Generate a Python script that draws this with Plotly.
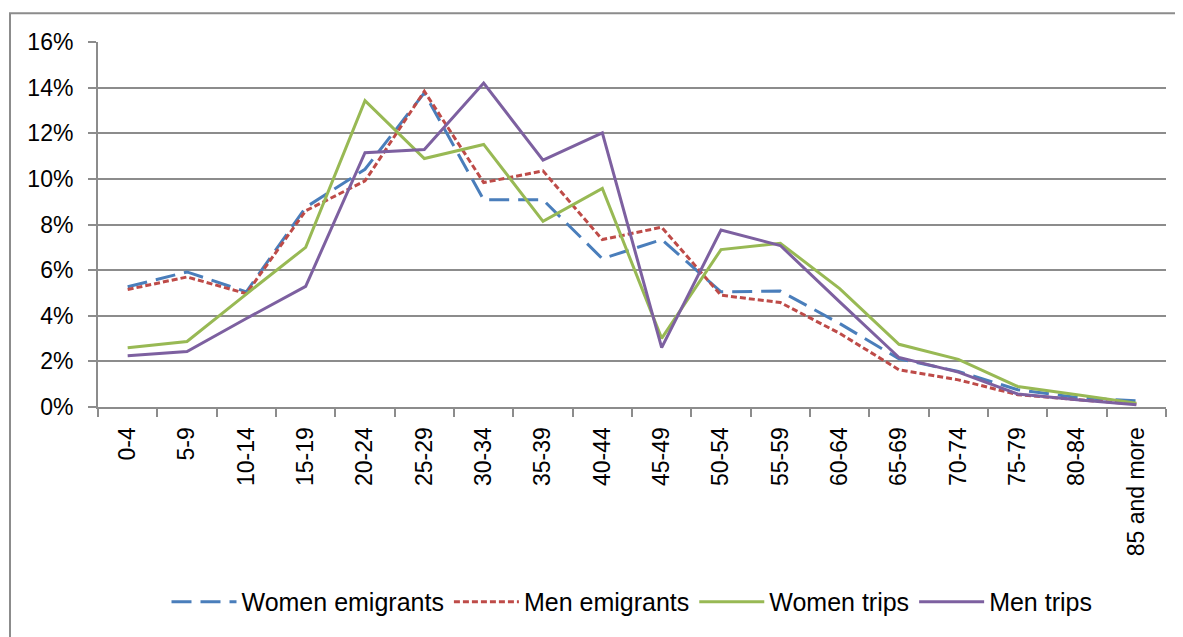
import plotly.graph_objects as go

categories = ["0-4", "5-9", "10-14", "15-19", "20-24", "25-29", "30-34", "35-39", "40-44",
              "45-49", "50-54", "55-59", "60-64", "65-69", "70-74", "75-79", "80-84", "85 and more"]

women_emigrants = [5.27, 5.92, 5.05, 8.75, 10.42, 13.77, 9.08, 9.08, 6.50, 7.34, 5.05, 5.08, 3.66, 2.11, 1.56, 0.76, 0.42, 0.27]
men_emigrants   = [5.15, 5.70, 4.97, 8.60, 9.91, 13.84, 9.84, 10.35, 7.34, 7.88, 4.90, 4.58, 3.23, 1.63, 1.19, 0.54, 0.32, 0.13]
women_trips     = [2.60, 2.87, 4.95, 7.00, 13.43, 10.89, 11.51, 8.14, 9.58, 3.01, 6.90, 7.18, 5.19, 2.75, 2.09, 0.90, 0.54, 0.17]
men_trips       = [2.25, 2.43, 3.88, 5.29, 11.15, 11.29, 14.20, 10.82, 12.02, 2.60, 7.76, 7.08, 4.61, 2.17, 1.53, 0.57, 0.32, 0.10]

series = [
    ("Women emigrants", women_emigrants, "#4a7ebb", "20px,9px"),
    ("Men emigrants", men_emigrants, "#be4b48", "6px,3px"),
    ("Women trips", women_trips, "#98b954", "solid"),
    ("Men trips", men_trips, "#7d60a0", "solid"),
]

fig = go.Figure()
for name, vals, color, dash in series:
    fig.add_trace(go.Scatter(
        x=categories, y=[v / 100 for v in vals], name=name, mode="lines",
        line=dict(color=color, width=3, dash=dash),
    ))

font = dict(family="Liberation Sans, Arial, sans-serif", size=23, color="#000000")
legend_font = dict(family="Liberation Sans, Arial, sans-serif", size=25, color="#000000")

fig.update_layout(
    width=1175, height=629,
    margin=dict(l=90, r=17, t=34, b=228),
    paper_bgcolor="white", plot_bgcolor="white",
    font=font,
    showlegend=True,
    legend=dict(orientation="h", x=0.5, xanchor="center", y=-0.534, yanchor="middle",
                font=legend_font, itemwidth=65, traceorder="normal"),
    xaxis=dict(
        type="category", range=[-0.5, 17.5], tickangle=-90,
        showline=True, linecolor="#8c8c8c", linewidth=2,
        ticks="outside", ticklen=8, tickcolor="#8c8c8c", tickwidth=2,
        tickson="boundaries", showgrid=False, tickfont=font, ticklabelstandoff=9,
    ),
    yaxis=dict(
        range=[0, 0.16], dtick=0.02, tickformat=".0%",
        showline=True, linecolor="#8c8c8c", linewidth=2,
        ticks="outside", ticklen=8, tickcolor="#8c8c8c", tickwidth=2,
        showgrid=True, gridcolor="#8c8c8c", gridwidth=2,
        zeroline=False, tickfont=font, ticklabelstandoff=10,
    ),
    shapes=[dict(type="rect", xref="paper", yref="paper",
                 x0=-0.0824, x1=1.05, y0=-0.75, y1=1.079,
                 line=dict(color="#8c8c8c", width=2), fillcolor="rgba(0,0,0,0)", layer="below")],
)

fig.write_html("out.html")
